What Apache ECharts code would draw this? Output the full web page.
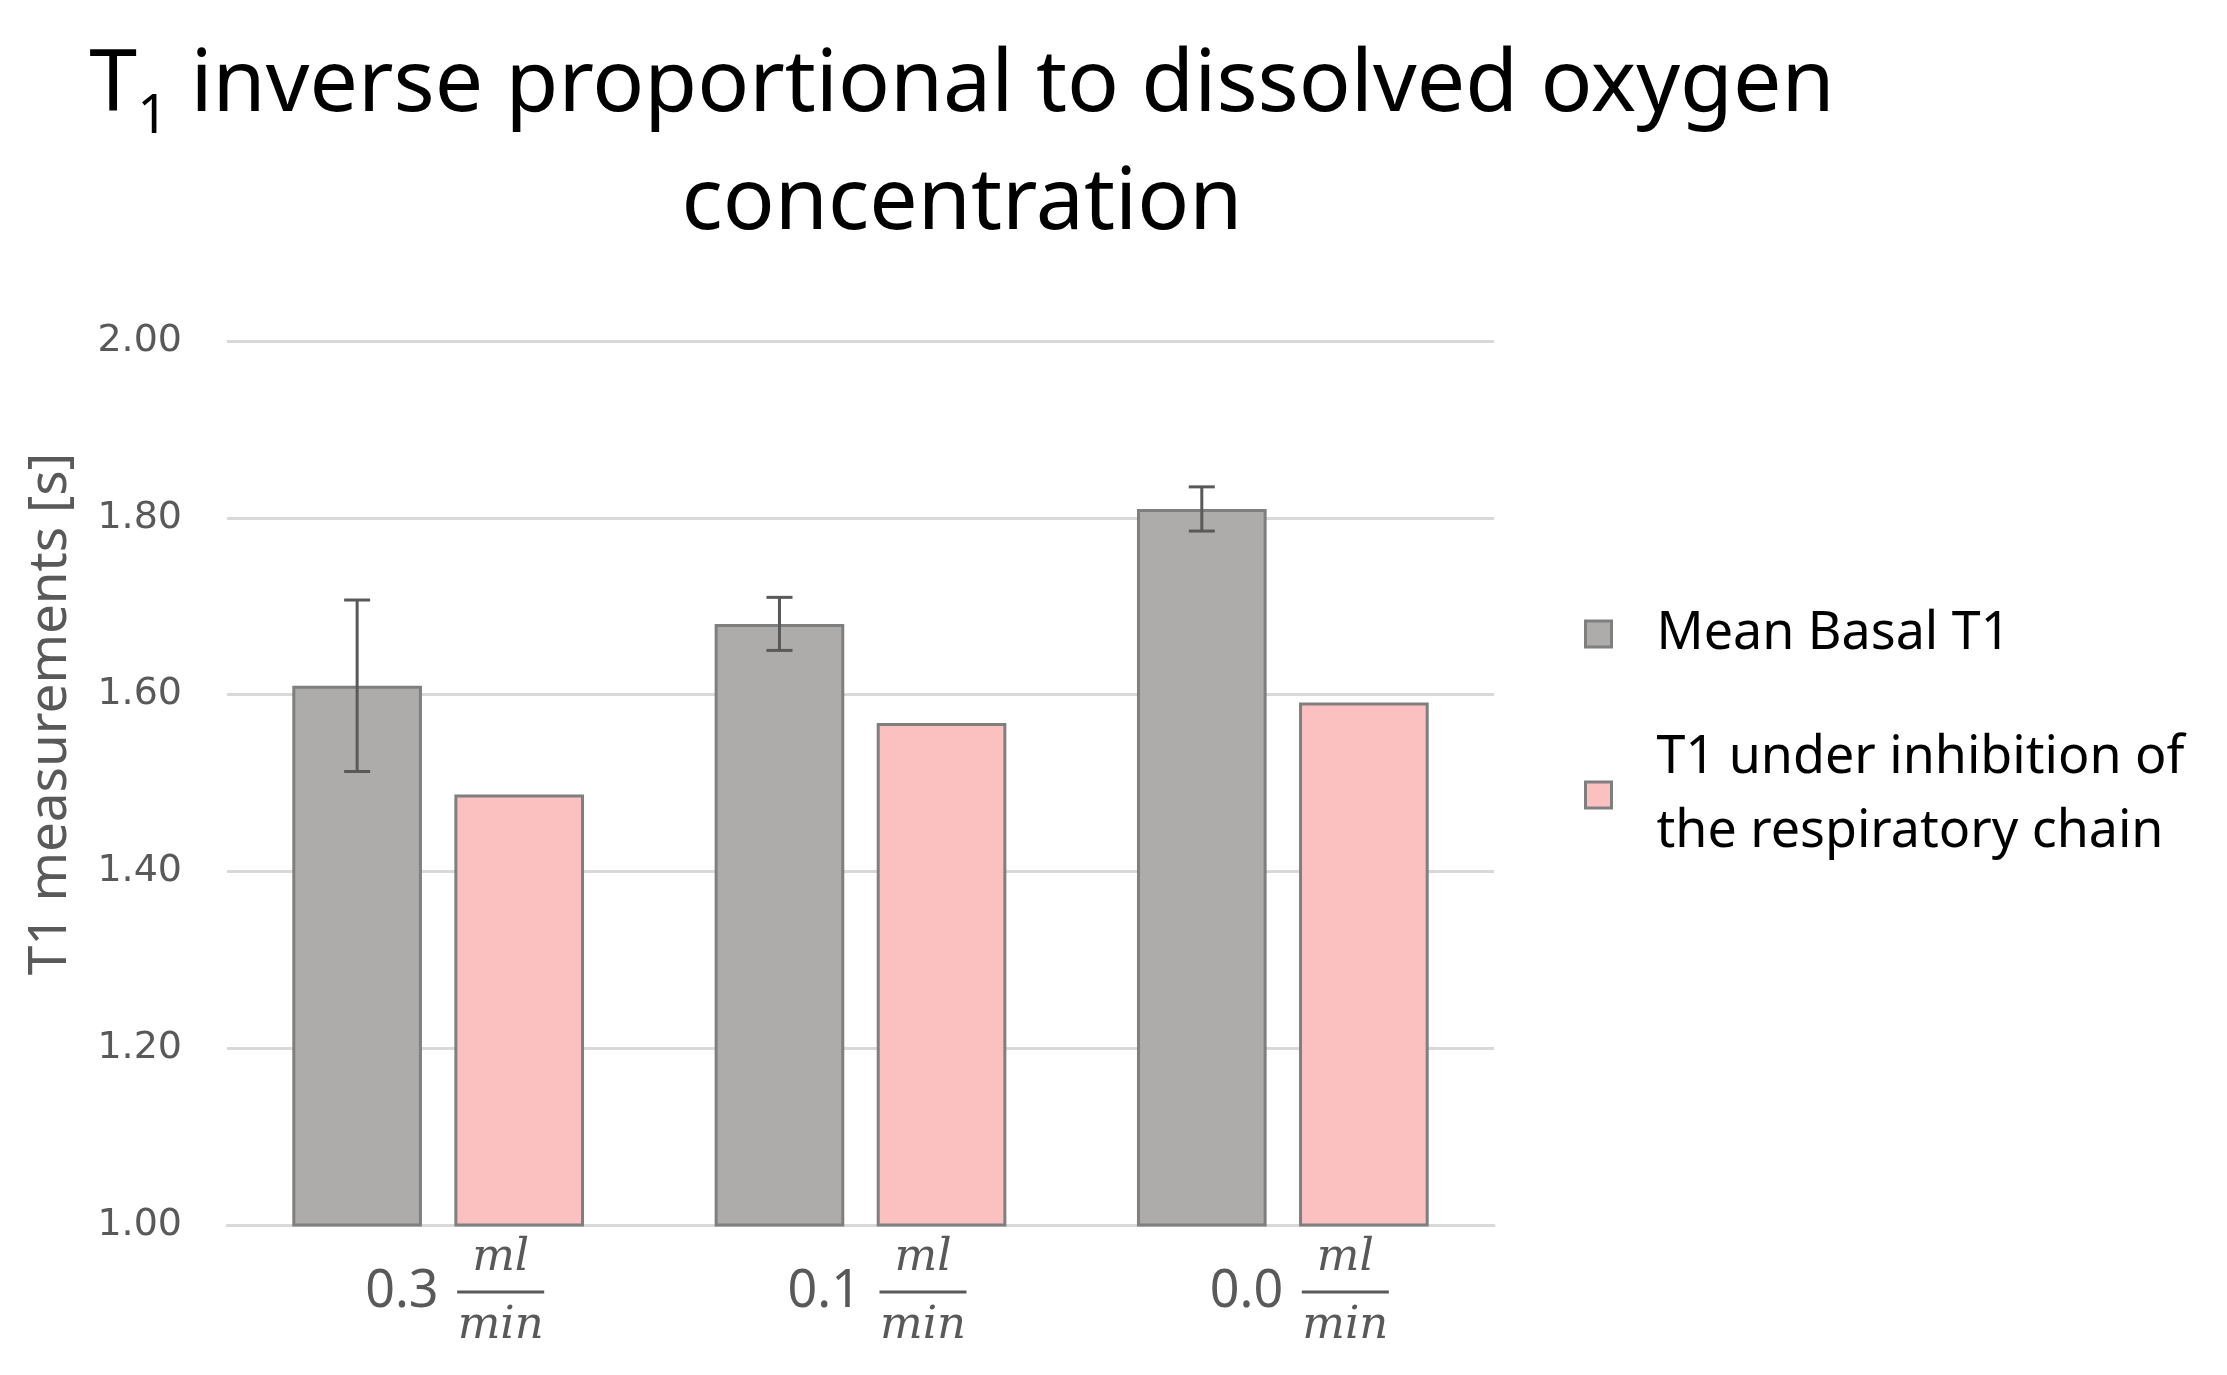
<!DOCTYPE html>
<html>
<head>
<meta charset="utf-8">
<script src="https://cdn.jsdelivr.net/npm/echarts@6/dist/echarts.min.js"></script>
<style>
html,body{margin:0;padding:0;background:#fff;}
#chart{width:2227px;height:1375px;}
</style>
</head>
<body>
<div id="chart"></div>
<script>
// ---- data ----
const categories = ['0.3', '0.1', '0.0'];
const unitTop = 'ml';
const unitBottom = 'min';
const seriesNames = ['Mean Basal T1', 'T1 under inhibition of\nthe respiratory chain'];
const basalValues = [1.61, 1.68, 1.81];
const basalErrors = [0.097, 0.030, 0.025];
const inhibitedValues = [1.487, 1.568, 1.591];
const yTicks = [1.0, 1.2, 1.4, 1.6, 1.8, 2.0];

const errorData = basalValues.map((v, i) => [i, v, basalErrors[i]]);

const chart = echarts.init(document.getElementById('chart'), null, {renderer: 'canvas'});

const BAR_W = 0.307;   // fraction of band
const BAR_GAP = 0.25;  // fraction of bar width

const option = {
  backgroundColor: '#ffffff',
  animation: false,
  title: {
    text: '{t|T}{sub|1}{t| inverse proportional to dissolved oxygen}\n{t|concentration}',
    left: 957,
    top: 22,
    textAlign: 'center',
    textStyle: {
      fontWeight: 'normal',
      rich: {
        t: {fontFamily: 'Noto Sans', fontWeight: 'normal', fontSize: 86, color: '#000', lineHeight: 118},
        sub: {fontFamily: 'Noto Sans', fontWeight: 'normal', fontSize: 54, color: '#000', lineHeight: 42, verticalAlign: 'bottom'}
      }
    }
  },
  legend: {
    orient: 'vertical',
    left: 1579,
    top: 592,
    itemWidth: 26,
    itemHeight: 26,
    itemGap: 50,
    icon: 'rect',
    data: seriesNames,
    itemStyle: {borderColor: '#7F7F7F', borderWidth: 3},
    textStyle: {fontFamily: 'Noto Sans', fontSize: 52, color: '#000', lineHeight: 74, padding: [0, 0, 0, 40]}
  },
  grid: {left: 227, right: 733, top: 341, bottom: 150},
  xAxis: {
    type: 'category',
    data: categories,
    axisLine: {show: true, lineStyle: {color: '#D9D9D9', width: 3}},
    axisTick: {show: false},
    axisLabel: {
      interval: 0,
      margin: 16,
      padding: [0, 0, 0, 33],
      formatter: function (v) {
        return '{n| }{f|' + unitTop + '}\n{n|' + v + '}{bar| }\n{n| }{f|' + unitBottom + '}';
      },
      rich: {
        n: {width: 92, align: 'left', fontFamily: 'Noto Sans', fontSize: 52, color: '#595959', lineHeight: 34},
        f: {width: 87, align: 'center', fontFamily: 'DejaVu Serif', fontStyle: 'italic', fontSize: 45, color: '#595959', lineHeight: 34},
        bar: {width: 87, height: 3, backgroundColor: '#595959', fontSize: 10, lineHeight: 34}
      }
    }
  },
  yAxis: {
    type: 'value',
    min: yTicks[0],
    max: yTicks[yTicks.length - 1],
    interval: 0.2,
    name: 'T1 measurements [s]',
    nameLocation: 'middle',
    nameGap: 150,
    nameRotate: 90,
    nameTextStyle: {fontFamily: 'Noto Sans', fontSize: 53, color: '#595959', padding: [0, 0, 0, 138]},
    axisLine: {show: false},
    axisTick: {show: false},
    axisLabel: {
      margin: 45,
      fontFamily: 'DejaVu Sans',
      fontSize: 38,
      color: '#595959',
      formatter: v => v.toFixed(2)
    },
    splitLine: {show: true, lineStyle: {color: '#D9D9D9', width: 3}}
  },
  series: [
    {
      name: seriesNames[0],
      type: 'bar',
      data: basalValues,
      barWidth: (BAR_W * 100) + '%',
      barGap: (BAR_GAP * 100) + '%',
      itemStyle: {color: '#AEACAA', borderColor: '#7F7F7F', borderWidth: 3}
    },
    {
      name: seriesNames[1],
      type: 'bar',
      data: inhibitedValues,
      barWidth: (BAR_W * 100) + '%',
      itemStyle: {color: '#FBC1C1', borderColor: '#7F7F7F', borderWidth: 3}
    },
    {
      type: 'custom',
      z: 10,
      encode: {x: 0, y: 1},
      data: errorData,
      renderItem: function (params, api) {
        const idx = api.value(0);
        const mean = api.value(1);
        const err = api.value(2);
        const band = api.size([1, 0])[0];
        const offset = -(BAR_W * band * (2 + BAR_GAP)) / 2 + (BAR_W * band) / 2;
        const hi = api.coord([idx, mean + err]);
        const lo = api.coord([idx, mean - err]);
        const x = hi[0] + offset;
        const cap = 13;
        const st = {stroke: '#595959', lineWidth: 3};
        return {
          type: 'group',
          children: [
            {type: 'line', shape: {x1: x, y1: hi[1], x2: x, y2: lo[1]}, style: st},
            {type: 'line', shape: {x1: x - cap, y1: hi[1], x2: x + cap, y2: hi[1]}, style: st},
            {type: 'line', shape: {x1: x - cap, y1: lo[1], x2: x + cap, y2: lo[1]}, style: st}
          ]
        };
      }
    }
  ]
};
chart.setOption(option);
</script>
</body>
</html>
